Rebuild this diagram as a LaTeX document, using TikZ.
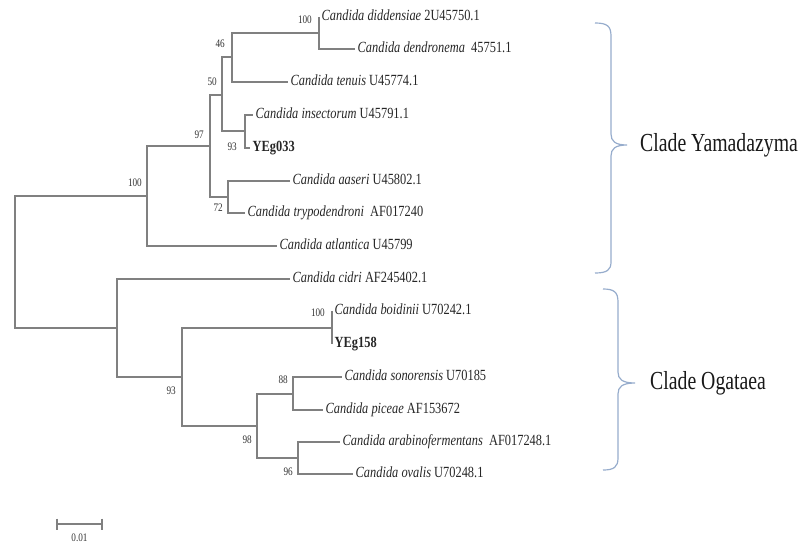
\documentclass[tikz,border=0pt]{standalone}
\usepackage{fontspec}
\setmainfont{Liberation Serif}[FakeStretch=0.8]
\newfontfamily\cladefont{Liberation Serif}[FakeStretch=0.76]
\usetikzlibrary{positioning}
\definecolor{branchgray}{RGB}{128,128,128}
\definecolor{bracecol}{RGB}{150,172,204}

\begin{document}
\begin{tikzpicture}[
        x=1pt, y=-1pt,
        branch/.style={draw=branchgray, line width=1.8pt},
        leaf/.style={anchor=west, inner sep=2.5pt, text=black!85, font=\fontsize{15.5}{17}\selectfont, text height=9.5pt, text depth=2pt},
        isolate/.style={leaf, font=\fontsize{15.5}{17}\selectfont\bfseries},
        boot/.style={inner sep=0pt, text=black!80, font=\fontsize{11.5}{12}\selectfont},
        brace/.style={draw=bracecol, line width=1.2pt},
        clade/.style={anchor=west, inner sep=0pt, text=black!90, font=\cladefont\fontsize{26}{28}\selectfont}
    ]
        \useasboundingbox (0,0) rectangle (804,544);

        % Clade Yamadazyma leaves
        \node[leaf] (did) at (319,17) {\textit{Candida diddensiae} 2U45750.1};
        \node[leaf] (den) at (355,49) {\textit{Candida dendronema} ~45751.1};
        \node[leaf] (ten) at (288,82) {\textit{Candida tenuis} U45774.1};
        \node[leaf] (ins) at (253,115) {\textit{Candida insectorum} U45791.1};
        \node[isolate] (y033) at (250,148) {YEg033};
        \node[leaf] (aas) at (290,181) {\textit{Candida aaseri} U45802.1};
        \node[leaf] (try) at (245,213) {\textit{Candida trypodendroni} ~AF017240};
        \node[leaf] (atl) at (277,246) {\textit{Candida atlantica} U45799};

        % Clade Ogataea leaves
        \node[leaf] (cid) at (290,279) {\textit{Candida cidri} AF245402.1};
        \node[leaf] (boi) at (332,311) {\textit{Candida boidinii} U70242.1};
        \node[isolate] (y158) at (332,344) {YEg158};
        \node[leaf] (son) at (342,377) {\textit{Candida sonorensis} U70185};
        \node[leaf] (pic) at (323,410) {\textit{Candida piceae} AF153672};
        \node[leaf] (ara) at (340,442) {\textit{Candida arabinofermentans} ~AF017248.1};
        \node[leaf] (ova) at (353,474) {\textit{Candida ovalis} U70248.1};

        % Internal nodes
        \coordinate (root) at (15,262);
        \coordinate (n100) at (147,196);
        \coordinate (n97) at (210,146);
        \coordinate (n50) at (222,95);
        \coordinate (n46) at (232,57);
        \coordinate (ndid) at (319,33);
        \coordinate (n93a) at (245,131);
        \coordinate (n72) at (228,197);
        \coordinate (ncid) at (117,328);
        \coordinate (n93b) at (182,377);
        \coordinate (nboi) at (332,328);
        \coordinate (n98) at (257,426);
        \coordinate (n88) at (293,394);
        \coordinate (n96) at (298,458);

        % Branches
        \foreach \a/\b in {root/n100, root/ncid, n100/n97, n97/n50, n97/n72, n50/n46, n50/n93a, n46/ndid,
                ncid/n93b, n93b/nboi, n93b/n98, n98/n88, n98/n96}
            \draw[branch] (\a) |- (\b);
        \foreach \a/\b in {n100/atl, n46/ten, ndid/did, ndid/den, n93a/ins, n93a/y033, n72/aas, n72/try,
                ncid/cid, nboi/boi, nboi/y158, n88/son, n88/pic, n96/ara, n96/ova}
            \draw[branch] (\a) |- (\b.west);

        % Bootstrap values
        \node[boot, above left=9pt and 7pt of ndid] (bdid) {100};
        \node[boot, above left=9pt and 7pt of n46] (b46) {46};
        \node[boot, above left=9pt and 5pt of n50] (b50) {50};
        \node[boot, above left=7.5pt and 6pt of n97] (b97) {97};
        \node[boot, above left=9pt and 5pt of n100] (b100) {100};
        \node[boot, below left=11.5pt and 8pt of n93a] (b93a) {93};
        \node[boot, below left=7pt and 5pt of n72] (b72) {72};
        \node[boot, above left=11pt and 7pt of nboi] (bboi) {100};
        \node[boot, below left=10pt and 6pt of n93b] (b93b) {93};
        \node[boot, above left=10pt and 5pt of n88] (b88) {88};
        \node[boot, below left=9.5pt and 5pt of n98] (b98) {98};
        \node[boot, below left=9.5pt and 5pt of n96] (b96) {96};

        % Clade braces
        \coordinate (ytip) at (627,145);
        \coordinate (otip) at (635,383);
        \draw[brace] (595,23) .. controls (607,23) and (611,26) .. (611,36) -- (611,134)
            .. controls (611,141) and (615,145) .. (ytip)
            .. controls (615,145) and (611,149) .. (611,156) -- (611,262)
            .. controls (611,270) and (607,273) .. (595,273);
        \draw[brace] (603,289) .. controls (614,289) and (618,292) .. (618,302) -- (618,372)
            .. controls (618,379) and (622,383) .. (otip)
            .. controls (622,383) and (618,387) .. (618,394) -- (618,458)
            .. controls (618,467) and (614,470) .. (603,470);
        \node[clade, right=13pt of ytip] (yama) {Clade Yamadazyma};
        \node[clade, right=15pt of otip] (oga) {Clade Ogataea};

        % Scale bar
        \coordinate (sbl) at (57,524);
        \coordinate (sbr) at (102,524);
        \coordinate (sbm) at (79.5,524);
        \draw[branch, line width=1.4pt] (sbl) -- (sbr);
        \draw[branch, line width=1.4pt] ([yshift=5.5pt]sbl) -- ([yshift=-5.5pt]sbl);
        \draw[branch, line width=1.4pt] ([yshift=5.5pt]sbr) -- ([yshift=-5.5pt]sbr);
        \node[boot, below=10pt of sbm] (sblab) {0.01};
    \end{tikzpicture}
\end{document}
